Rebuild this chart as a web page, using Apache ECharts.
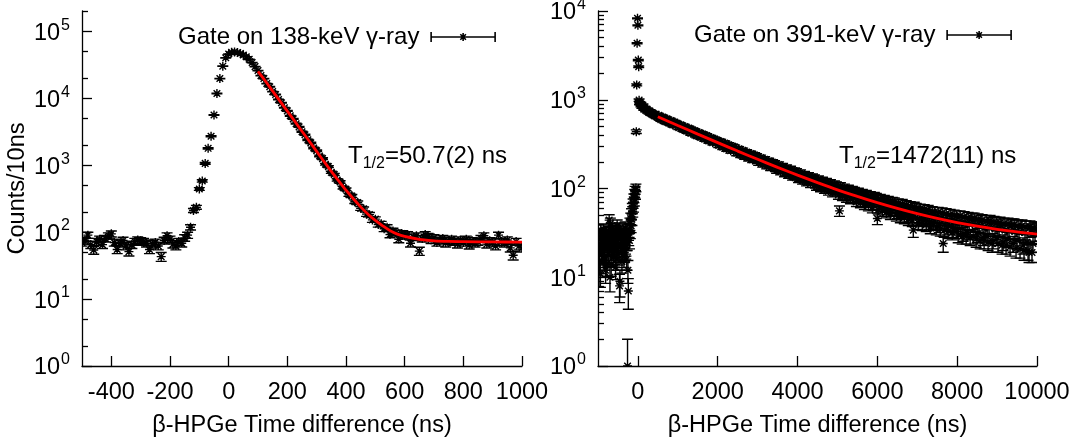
<!DOCTYPE html>
<html><head><meta charset="utf-8">
<script src="https://cdn.jsdelivr.net/npm/echarts@6/dist/echarts.min.js"></script>
<style>html,body{margin:0;padding:0;background:#fff}#c{width:1076px;height:445px}</style>
</head><body><div id="c"></div>
<script>
// ---------------- data: left panel (gate on 138 keV) ----------------
const timeL = [-500,-490,-480,-470,-460,-450,-440,-430,-420,-410,-400,-390,-380,-370,-360,-350,-340,-330,-320,-310,-300,-290,-280,-270,-260,-250,-240,-230,-220,-210,-200,-190,-180,-170,-160,
-150,-140,-130,-120,-110,-100,-90,-80,-70,-60,-50,-40,-30,-20,-10,0,10,20,30,40,50,60,70,80,90,
100,110,120,130,140,150,160,170,180,190,200,210,220,230,240,250,260,270,280,290,300,310,320,330,340,350,360,370,380,390,400,410,420,430,440,450,460,470,480,490,500,510,520,530,540,
550,560,570,580,590,600,610,620,630,640,650,660,670,680,690,700,710,720,730,740,750,760,770,780,790,800,810,820,830,840,850,860,870,880,890,900,910,920,930,940,950,960,970,980,990,1000];
const countsL = [70,75,90,65,54,72,78,65,80,88,94,70,55,68,75,62,51,65,72,76,74,72,68,55,66,70,62,43,75,88,78,66,62,72,68,
82,90,118,210,235,440,580,1060,1780,2700,5600,11700,19600,30000,40000,45500,48500,49000,48000,46500,44000,41500,38000,34000,29500,
25800,21700,19600,16500,14800,12500,11300,9500,8550,7200,6450,5450,4900,4150,3720,3140,2840,2380,2150,1800,1640,1370,1250,1030,950,780,725,600,560,462,435,360,345,284,275,226,222,185,182,152,156,130,133,112,118,
92,104,98,78,95,88,92,68,84,88,52,80,92,86,76,82,70,75,80,68,74,78,72,66,76,70,78,64,74,68,72,80,88,66,74,70,62,90,72,68,76,58,45,72,62,58];
const fitTimeL = [100,125,150,175,200,225,250,275,300,325,350,375,400,425,450,475,500,525,550,575,600,650,700,750,800,900,1000];
const fitL = [25100,18000,12700,9000,6380,4530,3200,2270,1600,1130,804,582,422,314,238,185,149,124,105,93,86,78,74,72.5,72,71.2,70.8];

// ---------------- data: right panel (gate on 391 keV) ----------------
const timeR = [-1000,-980,-960,-940,-920,-900,-880,-860,-840,-820,-800,-780,-760,-740,-720,-700,-680,-660,-640,-620,-600,-580,-560,-540,-520,-500,-480,-460,-440,-420,-400,-380,-360,-340,-320,-300,-280,
-270,-260,-250,-240,-230,-220,-210,-200,-190,-180,-170,-160,-150,-140,-130,-120,-110,-100,-90,-80,-70,-60,-50,-40,-30,-20,-10,0,10,20,30,40,
50,75,100,125,150,175,200,225,250,275,300,325,350,375,400,425,450,475,
500,550,600,650,700,750,800,850,900,950,1000,1050,1100,1150,1200,1250,1300,1350,1400,1450,1500,1550,1600,1650,1700,1750,1800,1850,1900,1950,
2000,2050,2100,2150,2200,2250,2300,2350,2400,2450,2500,2550,2600,2650,2700,2750,2800,2850,2900,2950,
3000,3050,3100,3150,3200,3250,3300,3350,3400,3450,3500,3550,3600,3650,3700,3750,3800,3850,3900,3950,
4000,4050,4100,4150,4200,4250,4300,4350,4400,4450,4500,4550,4600,4650,4700,4750,4800,4850,4900,4950,
5000,5050,5100,5150,5200,5250,5300,5350,5400,5450,5500,5550,5600,5650,5700,5750,5800,5850,5900,5950,
6000,6050,6100,6150,6200,6250,6300,6350,6400,6450,6500,6550,6600,6650,6700,6750,6800,6850,6900,6950,
7000,7050,7100,7150,7200,7250,7300,7350,7400,7450,7500,7550,7600,7650,7700,7750,7800,7850,7900,7950,
8000,8050,8100,8150,8200,8250,8300,8350,8400,8450,8500,8550,8600,8650,8700,8750,8800,8850,8900,8950,
9000,9050,9100,9150,9200,9250,9300,9350,9400,9450,9500,9550,9600,9650,9700,9750,9800,9850,9900,9950,10000];
const countsR = [22,27,18,11,30,24,19,33,16,25,28,14,22,31,44,10,26,20,35,17,24,29,13,21,38,18,27,8,32,23,15,30,26,19,36,22,16,
25,1,12,7,28,34,26,40,33,46,38,52,45,60,55,68,62,78,72,88,96,85,102,437,1470,4330,8280,6900,2800,2360,990,920,
900,860,830,870,790,810,760,780,740,720,745,700,690,710,670,655,680,640,
652,611,628,619,566,590,571,532,556,514,522,489,507,476,452,471,458,421,440,412,396,418,385,373,392,360,348,366,337,329,
343,310,321,296,314,288,280,297,268,279,252,266,259,236,254,231,226,240,215,224,
206,218,197,207,190,199,181,190,186,168,179,164,172,168,151,162,147,157,153,137,
147,132,141,138,124,134,120,129,126,112,121,108,117,114,101,111,98,107,104,92,
101,56,97,88,95,82,91,89,78,87,76,84,81,71,80,70,77,75,65,74,
46,71,62,69,67,58,66,56,64,62,53,61,52,60,58,49,57,48,34,55,
53,45,54,44,51,50,41,49,40,48,47,38,47,24,45,36,44,43,34,43,
33,42,41,31,41,32,40,45,29,39,30,38,43,28,37,29,36,41,26,35,
28,35,39,25,34,27,33,38,24,33,26,32,37,23,32,25,19,34,24,31,36];
// interleaved bins (read between the bins above)
const timeR2 = [-990,-970,-950,-930,-910,-890,-870,-850,-830,-810,-790,-770,-750,-730,-710,-690,-670,-650,-630,-610,-590,-570,-550,-530,-510,-490,-470,-450,-430,-410,-390,-370,-350,-330,-310,-290,
525,575,625,675,725,775,825,875,925,975,1025,1075,1125,1175,1225,1275,1325,1375,1425,1475,1525,1575,1625,1675,1725,1775,1825,1875,1925,1975,
2025,2075,2125,2175,2225,2275,2325,2375,2425,2475,2525,2575,2625,2675,2725,2775,2825,2875,2925,2975,
3025,3075,3125,3175,3225,3275,3325,3375,3425,3475,3525,3575,3625,3675,3725,3775,3825,3875,3925,3975,
4025,4075,4125,4175,4225,4275,4325,4375,4425,4475,4525,4575,4625,4675,4725,4775,4825,4875,4925,4975,
5025,5075,5125,5175,5225,5275,5325,5375,5425,5475,5525,5575,5625,5675,5725,5775,5825,5875,5925,5975,
6025,6075,6125,6175,6225,6275,6325,6375,6425,6475,6525,6575,6625,6675,6725,6775,6825,6875,6925,6975,
7025,7075,7125,7175,7225,7275,7325,7375,7425,7475,7525,7575,7625,7675,7725,7775,7825,7875,7925,7975,
8025,8075,8125,8175,8225,8275,8325,8375,8425,8475,8525,8575,8625,8675,8725,8775,8825,8875,8925,8975,
9025,9075,9125,9175,9225,9275,9325,9375,9425,9475,9525,9575,9625,9675,9725,9775,9825,9875,9925,9975];
const countsR2 = [28,15,11,34,20,26,17,29,23,12,31,21,27,18,25,40,14,24,30,19,26,33,20,16,28,22,35,9,24,29,20,34,17,27,23,30,
668,596,640,571,612,548,583,520,560,541,485,522,462,498,442,480,419,457,448,392,428,377,410,360,394,343,376,328,360,350,
306,338,292,325,279,311,267,298,291,250,280,239,269,229,258,219,247,210,238,231,
196,223,188,214,180,205,172,197,192,161,186,155,178,148,171,142,165,136,158,155,
128,150,123,144,118,139,113,134,131,106,127,102,123,98,119,94,115,90,111,108,
85,106,82,102,79,99,76,96,93,71,91,69,88,66,86,64,83,61,81,79,
58,77,56,75,54,73,52,71,70,50,68,48,67,47,65,45,63,44,62,60,
41,59,40,58,39,57,37,55,54,36,54,35,53,34,52,33,51,32,50,49,
30,49,29,48,29,47,28,46,46,27,45,26,44,26,43,25,43,24,42,41,
24,41,23,40,23,40,22,39,39,21,38,21,38,20,37,20,37,19,36,35];
const fitTimeR = [500,1000,1500,2000,2500,3000,3500,4000,4500,5000,5500,6000,6500,7000,7500,8000,8500,9000,9500,10000];
const fitR = [644,513,410,329,264,213.5,173,141.6,116.5,96.6,81.5,69.3,59.6,52,46,41.3,37.6,34.7,32.4,30.6];

// ---------------- ticks, labels, texts ----------------
const xTicksL = [-400,-200,0,200,400,600,800,1000];
const xTicksR = [0,2000,4000,6000,8000,10000];
const yTicksL = [1,10,100,1000,10000,100000];
const yMinorL = [2,5,20,50,200,500,2000,5000,20000,50000,200000];
const yTicksR = [1,10,100,1000,10000];
const yMinorR = [2,3,4,5,6,7,8,9,20,30,40,50,60,70,80,90,200,300,400,500,600,700,800,900,2000,3000,4000,5000,6000,7000,8000,9000];
const legendL = 'Gate on 138-keV γ-ray';
const legendR = 'Gate on 391-keV γ-ray';
const fitNameL = 'Fit 138-keV';
const fitNameR = 'Fit 391-keV';
const halfLifeL = '=50.7(2) ns';
const halfLifeR = '=1472(11) ns';
const xTitle = 'β-HPGe Time difference (ns)';
const yTitle = 'Counts/10ns';

// ---------------- chart ----------------
const FONT = '"Liberation Sans", Arial, sans-serif';
const FS = 23.5;
const FS2 = 24;
const chart = echarts.init(document.getElementById('c'), null, {renderer: 'canvas'});

function makeData(t, v) { return v.map((y, i) => [t[i], y, Math.sqrt(y)]); }

function renderPoint(params, api) {
  const x = api.value(0), y = api.value(1), e = api.value(2);
  const p = api.coord([x, y]);
  const hi = api.coord([x, y + e]);
  const lowV = y - e;
  const cs = params.coordSys;
  const lo = lowV > 0 ? api.coord([x, lowV]) : [p[0], cs.y + cs.height + 30];
  const s = 4.5, d = 3.3, c = 5.5;
  const px = p[0], py = p[1];
  const path = 'M' + px + ',' + lo[1] + 'L' + px + ',' + hi[1] +
    'M' + (px - c) + ',' + lo[1] + 'L' + (px + c) + ',' + lo[1] +
    'M' + (px - c) + ',' + hi[1] + 'L' + (px + c) + ',' + hi[1] +
    'M' + (px - s) + ',' + py + 'L' + (px + s) + ',' + py +
    'M' + px + ',' + (py - s) + 'L' + px + ',' + (py + s) +
    'M' + (px - d) + ',' + (py - d) + 'L' + (px + d) + ',' + (py + d) +
    'M' + (px - d) + ',' + (py + d) + 'L' + (px + d) + ',' + (py - d);
  return {type: 'path', shape: {pathData: path}, style: {stroke: '#000', fill: null, lineWidth: 1.4}};
}

const axisLineStyle = {color: '#000', width: 1.3};
function xAxisCfg(grid, min, max, ticks) {
  return {
    type: 'value', gridIndex: grid, min: min, max: max,
    axisLine: {show: true, onZero: false, lineStyle: axisLineStyle},
    axisTick: {show: true, inside: true, length: 10, customValues: ticks, lineStyle: axisLineStyle},
    axisLabel: {show: true, customValues: ticks, formatter: v => String(v), margin: 15,
      fontSize: FS, fontFamily: FONT, color: '#000'},
    splitLine: {show: false},
    name: xTitle, nameLocation: 'middle', nameGap: 48, nameMoveOverlap: false,
    nameTextStyle: {fontSize: FS, fontFamily: FONT, color: '#000'}
  };
}
const richY = {
  b: {fontSize: FS, fontFamily: FONT, color: '#000', lineHeight: 24, verticalAlign: 'bottom'},
  s: {fontSize: 16, fontFamily: FONT, color: '#000', verticalAlign: 'top', padding: [0, 0, 12, 1]}
};
function yAxisCfg(grid, max, ticks, withName) {
  const cfg = {
    type: 'log', logBase: 10, gridIndex: grid, min: 1, max: max, position: 'left',
    axisLine: {show: true, onZero: false, lineStyle: axisLineStyle},
    axisTick: {show: true, inside: true, length: 10, customValues: ticks, lineStyle: axisLineStyle},
    axisLabel: {show: true, customValues: ticks, margin: 12,
      formatter: v => '{b|10}{s|' + Math.round(Math.log10(v)) + '}', rich: richY},
    splitLine: {show: false}, minorTick: {show: false}
  };
  if (withName) {
    cfg.name = yTitle; cfg.nameLocation = 'middle'; cfg.nameGap = 52; cfg.nameMoveOverlap = false;
    cfg.nameTextStyle = {fontSize: FS, fontFamily: FONT, color: '#000'};
  }
  return cfg;
}
function yMinorCfg(grid, max, ticks) {
  return {
    type: 'log', logBase: 10, gridIndex: grid, min: 1, max: max, position: 'left',
    axisLine: {show: false, onZero: false},
    axisTick: {show: true, inside: true, length: 6, customValues: ticks, lineStyle: axisLineStyle},
    axisLabel: {show: false}, splitLine: {show: false}
  };
}

const legendIcon = 'path://M0,5L64,5M0,0L0,10M64,0L64,10M28,5L36,5M32,1L32,9M29.2,2.2L34.8,7.8M34.8,2.2L29.2,7.8';
function legendCfg(name, left, top) {
  return {
    data: [name], left: left, top: top, align: 'right', padding: 0, selectedMode: false,
    itemWidth: 64, itemHeight: 10, icon: legendIcon,
    itemStyle: {color: 'rgba(0,0,0,0)', borderColor: '#000', borderWidth: 1.6},
    textStyle: {fontSize: FS2, fontFamily: FONT, color: '#000'},
    formatter: n => n + '\u00a0'
  };
}
const richT = {
  a: {fontSize: FS2, fontFamily: FONT, fill: '#000', color: '#000', lineHeight: 24, verticalAlign: 'top'},
  s: {fontSize: 16, fontFamily: FONT, fill: '#000', color: '#000', verticalAlign: 'top', padding: [12, 0, 0, 0]}
};

const option = {
  animation: false,
  backgroundColor: '#fff',
  textStyle: {fontFamily: FONT},
  grid: [
    {left: 82, top: 11, width: 440, height: 355, containLabel: false, outerBoundsMode: 'none'},
    {left: 598, top: 11, width: 439, height: 355, containLabel: false, outerBoundsMode: 'none'}
  ],
  xAxis: [xAxisCfg(0, -500, 1000, xTicksL), xAxisCfg(1, -1000, 10000, xTicksR)],
  yAxis: [yAxisCfg(0, 200000, yTicksL, true), yMinorCfg(0, 200000, yMinorL),
          yAxisCfg(1, 10000, yTicksR, false), yMinorCfg(1, 10000, yMinorR)],
  legend: [legendCfg(legendL, 178, 25), legendCfg(legendR, 694, 23)],
  graphic: [
    {type: 'text', left: 348, top: 144, style: {text: '{a|T}{s|1/2}{a|' + halfLifeL + '}', rich: richT}},
    {type: 'text', left: 839, top: 144, style: {text: '{a|T}{s|1/2}{a|' + halfLifeR + '}', rich: richT}}
  ],
  series: [
    {name: legendL, type: 'custom', xAxisIndex: 0, yAxisIndex: 0, clip: true,
     renderItem: renderPoint, data: makeData(timeL, countsL), encode: {x: 0, y: 1}, z: 2},
    {name: fitNameL, type: 'line', xAxisIndex: 0, yAxisIndex: 0, smooth: 0.3, showSymbol: false, clip: true,
     data: fitTimeL.map((t, i) => [t, fitL[i]]), lineStyle: {color: '#ff0000', width: 2.8}, itemStyle: {color: '#ff0000'}, z: 5},
    {name: legendR, type: 'custom', xAxisIndex: 1, yAxisIndex: 2, clip: true,
     renderItem: renderPoint, data: makeData(timeR, countsR).concat(makeData(timeR2, countsR2)), encode: {x: 0, y: 1}, z: 2},
    {name: fitNameR, type: 'line', xAxisIndex: 1, yAxisIndex: 2, smooth: 0.3, showSymbol: false, clip: true,
     data: fitTimeR.map((t, i) => [t, fitR[i]]), lineStyle: {color: '#ff0000', width: 2.8}, itemStyle: {color: '#ff0000'}, z: 5}
  ]
};
chart.setOption(option);
</script>
</body></html>
